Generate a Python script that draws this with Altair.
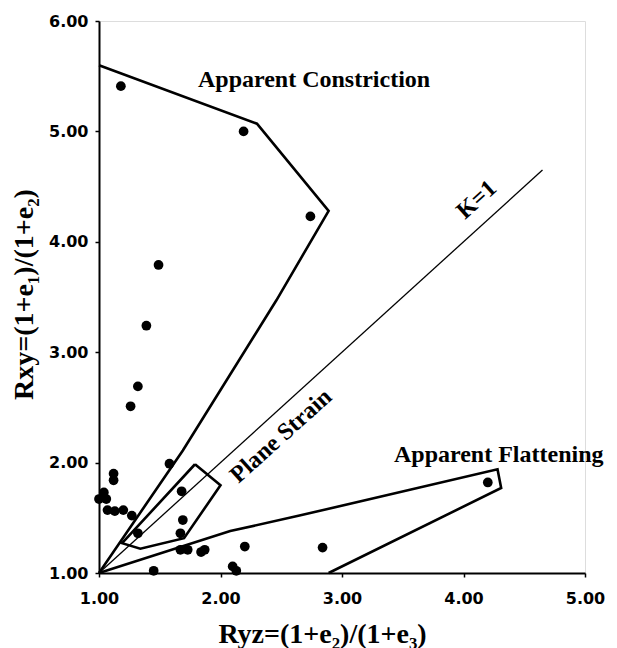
import altair as alt
import pandas as pd

# ---- data points (Ryz, Rxy) ----
ryz = [1.18, 2.19, 2.74, 1.49, 1.39, 1.32, 1.26, 1.58, 1.12, 1.12, 1.00, 1.04, 1.06,
       1.07, 1.13, 1.20, 1.27, 1.32, 1.68, 1.69, 1.67, 1.67, 1.73, 1.84, 1.87, 2.20,
       1.45, 2.10, 2.13, 2.84, 4.20]
rxy = [5.41, 5.00, 4.23, 3.79, 3.24, 2.69, 2.51, 1.99, 1.90, 1.84, 1.67, 1.73, 1.67,
       1.57, 1.56, 1.57, 1.52, 1.36, 1.74, 1.48, 1.36, 1.21, 1.21, 1.19, 1.21, 1.24,
       1.02, 1.06, 1.02, 1.23, 1.82]

# ---- field outlines ----
constr_x = [1.00, 2.30, 2.89, 2.46, 1.69, 1.00]
constr_y = [5.60, 5.07, 4.28, 3.47, 2.11, 1.00]

plane_x = [1.79, 2.00, 1.70, 1.34, 1.19, 1.79]
plane_y = [1.985, 1.795, 1.315, 1.22, 1.27, 1.985]

flat_x = [1.00, 2.08, 2.65, 4.28, 4.31, 2.89]
flat_y = [1.00, 1.38, 1.52, 1.94, 1.77, 1.00]

k1_x = [1.00, 4.65]
k1_y = [1.00, 4.65]

# ---- labels ----
flat_labels = ["Apparent Constriction", "Apparent Flattening"]
flat_lx = [2.77, 4.29]
flat_ly = [5.40, 2.006]

rot_labels = ["Plane Strain", "K=1"]
rot_lx = [2.50, 4.11]
rot_ly = [2.24, 4.38]

x_ticks = [1, 2, 3, 4, 5]
y_ticks = [1, 2, 3, 4, 5, 6]

xs = alt.Scale(domain=[1, 5], nice=False, zero=False)
ys = alt.Scale(domain=[1, 6], nice=False, zero=False)

axis_common = dict(
    grid=False, domainColor="black", domainWidth=2, tickColor="black",
    tickWidth=1.5, tickSize=4, labelColor="black", labelFont="DejaVu Sans",
    labelFontWeight="bold", labelFontSize=16, format=".2f", labelFlush=False,
    labelOverlap=False,
    titleFont="Liberation Serif", titleFontWeight="bold", titleFontSize=28,
    titleColor="black",
)

xaxis = alt.Axis(values=x_ticks, labelPadding=13, title="Ryz=(1+e₂)/(1+e₃)",
                 titleX=223, titleY=61, titleBaseline="middle", **axis_common)
yaxis = alt.Axis(values=y_ticks, labelPadding=7, title="Rxy=(1+e₁)/(1+e₂)",
                 titleX=-75, titleY=273, titleBaseline="middle", titleAngle=270,
                 **axis_common)

pts = pd.DataFrame({"ryz": ryz, "rxy": rxy})

def outline(xv, yv, name):
    return pd.DataFrame({"ryz": xv, "rxy": yv, "o": list(range(len(xv))), "g": name})

lines_df = pd.concat([
    outline(constr_x, constr_y, "constriction"),
    outline(plane_x, plane_y, "plane"),
    outline(flat_x, flat_y, "flattening"),
])
k1_df = outline(k1_x, k1_y, "k1")

base_x = alt.X("ryz:Q", scale=xs, axis=xaxis)
base_y = alt.Y("rxy:Q", scale=ys, axis=yaxis)

points = alt.Chart(pts).mark_circle(size=95, color="black", opacity=1).encode(
    x=base_x, y=base_y)

thick = alt.Chart(lines_df).mark_line(color="black", strokeWidth=2.6).encode(
    x=alt.X("ryz:Q", scale=xs), y=alt.Y("rxy:Q", scale=ys),
    detail="g:N", order="o:Q")

k1 = alt.Chart(k1_df).mark_line(color="black", strokeWidth=1.3).encode(
    x=alt.X("ryz:Q", scale=xs), y=alt.Y("rxy:Q", scale=ys), order="o:Q")

lab_df = pd.DataFrame({"ryz": flat_lx, "rxy": flat_ly, "t": flat_labels})
labels = alt.Chart(lab_df).mark_text(
    font="Liberation Serif", fontWeight="bold", fontSize=24, color="black",
    align="center", baseline="alphabetic").encode(
    x=alt.X("ryz:Q", scale=xs), y=alt.Y("rxy:Q", scale=ys), text="t:N")

rot_df = pd.DataFrame({"ryz": rot_lx, "rxy": rot_ly, "t": rot_labels})
rlabels = alt.Chart(rot_df).mark_text(
    font="Liberation Serif", fontWeight="bold", fontSize=24, color="black",
    align="center", baseline="middle", angle=318).encode(
    x=alt.X("ryz:Q", scale=xs), y=alt.Y("rxy:Q", scale=ys), text="t:N")

chart = alt.layer(thick, k1, points, labels, rlabels).properties(
    width=486, height=552,
    autosize=alt.AutoSizeParams(type="none"),
    padding={"left": 99, "top": 21, "right": 32, "bottom": 75},
).configure_view(stroke=None).configure(background="white")

chart.save("out.html", embed_options={"renderer": "svg", "actions": False})
